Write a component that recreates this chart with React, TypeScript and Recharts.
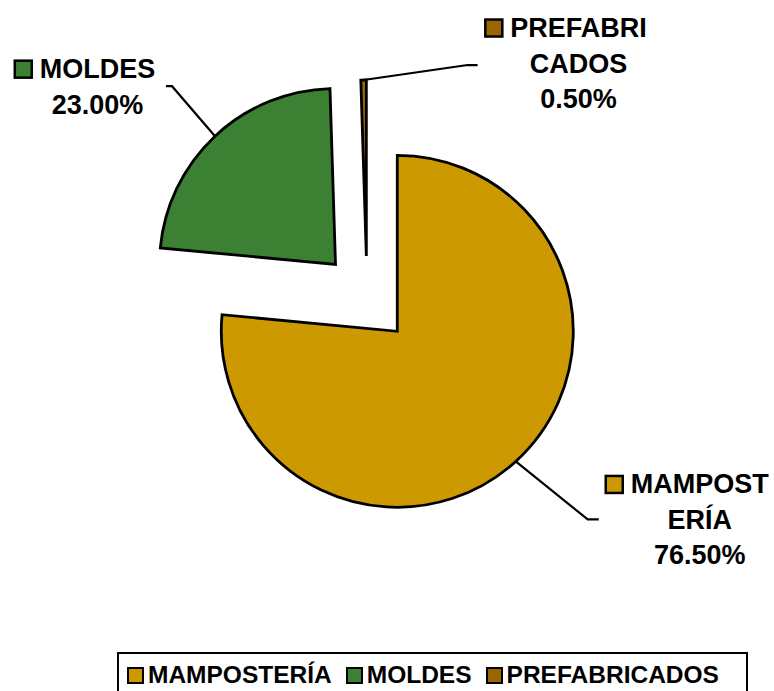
import { PieChart, Pie, Cell, Legend } from "recharts";

const categories = ["MAMPOSTERÍA", "MOLDES", "PREFABRICADOS"];
const shares = [76.5, 23.0, 0.5];
const colors = ["#CC9900", "#3B8033", "#996600"];
// where Excel wrapped each name inside its data label
const labelBreaks = [7, 6, 8];

const data = categories.map((name, i) => ({ name, value: shares[i] }));

const W = 774;
const H = 691;
const CX = 367;
const CY = 298;
const R = 176;
const explode = [45, 46, 42];
const RADIAN = Math.PI / 180;
const FONT = "Arial, 'Liberation Sans', sans-serif";
const LABEL_SIZE = 27;

// leader line + text placement for each slice label
const labelLayout = [
  { elbow: [72, 58], tail: 11, textX: 101, base: -26 },
  { elbow: [-43, -50], tail: -6, textX: -68.5, base: -8 },
  { elbow: [104, -15], tail: 10, textX: 101, base: -28 },
];

const total = shares.reduce((a, b) => a + b, 0);
const midAngles = shares.map((v, i) => {
  const before = shares.slice(0, i).reduce((a, b) => a + b, 0);
  return 90 - (360 * (before + v / 2)) / total;
});

let ctx: CanvasRenderingContext2D | null = null;
function measure(text: string) {
  if (!ctx) ctx = document.createElement("canvas").getContext("2d");
  if (!ctx) return text.length * LABEL_SIZE * 0.7;
  ctx.font = `bold ${LABEL_SIZE}px ${FONT}`;
  return ctx.measureText(text).width;
}

const renderLabel = (target: number) => (props: any) => {
  const { cx, cy, midAngle, outerRadius, percent, index, name } = props;
  if (index !== target) return <g />;
  const lay = labelLayout[target];
  const ax = cx + outerRadius * Math.cos(-midAngle * RADIAN);
  const ay = cy + outerRadius * Math.sin(-midAngle * RADIAN);
  const ex = ax + lay.elbow[0];
  const ey = ay + lay.elbow[1];
  const tx = ex + lay.tail;
  const X = tx + lay.textX;
  const base0 = ey + lay.base;
  const b = labelBreaks[target];
  const lines = [name.slice(0, b), name.slice(b), `${(percent * 100).toFixed(2)}%`].filter(
    (s: string) => s.length > 0
  );
  const w0 = measure(lines[0]);
  const keySize = 17;
  return (
    <g>
      <polyline
        points={`${ax},${ay} ${ex},${ey} ${tx},${ey}`}
        fill="none"
        stroke="#000"
        strokeWidth={2.2}
      />
      <rect
        x={X - w0 / 2 - 8 - keySize}
        y={base0 - keySize - 0.5}
        width={keySize}
        height={keySize}
        fill={colors[target]}
        stroke="#000"
        strokeWidth={2.5}
      />
      {lines.map((ln: string, i: number) => (
        <text
          key={i}
          x={X}
          y={base0 + i * 35.5}
          textAnchor="middle"
          fontFamily={FONT}
          fontWeight="bold"
          fontSize={LABEL_SIZE}
          fill="#000"
        >
          {ln}
        </text>
      ))}
    </g>
  );
};

function LegendBox() {
  return (
    <div
      style={{
        boxSizing: "border-box",
        border: "2px solid #000",
        width: "100%",
        height: "100%",
        display: "flex",
        alignItems: "flex-start",
        paddingLeft: 8,
        paddingTop: 6,
        fontFamily: FONT,
        fontWeight: "bold",
        fontSize: 24.5,
        color: "#000",
      }}
    >
      {categories.map((c, i) => (
        <div key={c} style={{ display: "flex", alignItems: "center", marginRight: 14 }}>
          <span
            style={{
              boxSizing: "border-box",
              display: "inline-block",
              width: 17,
              height: 17,
              background: colors[i],
              border: "2.5px solid #000",
              marginRight: 4,
            }}
          />
          <span style={{ lineHeight: "30px" }}>{c}</span>
        </div>
      ))}
    </div>
  );
}

export default function App() {
  return (
    <div style={{ position: "absolute", left: 0, top: 0, background: "#fff" }}>
      <PieChart width={W} height={H} margin={{ top: 0, right: 0, bottom: 0, left: 0 }}>
        {categories.map((_, k) => (
          <Pie
            key={k}
            data={data}
            dataKey="value"
            nameKey="name"
            cx={CX + explode[k] * Math.cos(midAngles[k] * RADIAN)}
            cy={CY - explode[k] * Math.sin(midAngles[k] * RADIAN)}
            outerRadius={R}
            startAngle={90}
            endAngle={-270}
            isAnimationActive={false}
            label={renderLabel(k)}
            labelLine={false}
          >
            {data.map((d, i) => (
              <Cell
                key={d.name}
                fill={i === k ? colors[i] : "none"}
                stroke={i === k ? "#000" : "none"}
                strokeWidth={2.8}
              />
            ))}
          </Pie>
        ))}
        <Legend
          content={() => <LegendBox />}
          wrapperStyle={{ left: 117, top: 652, width: 631, height: 60, bottom: "auto" }}
        />
      </PieChart>
    </div>
  );
}
